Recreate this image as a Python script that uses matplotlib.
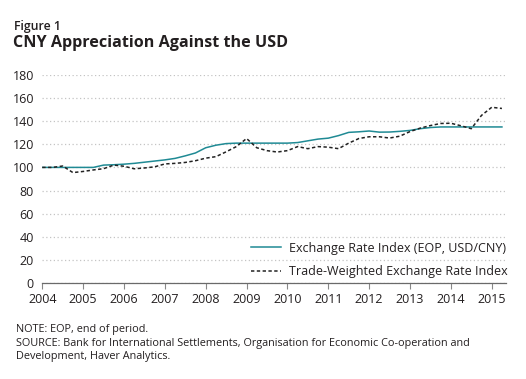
import numpy as np
import matplotlib
matplotlib.use("Agg")
from matplotlib import pyplot as plt

plt.rcParams['font.family'] = ['Open Sans', 'DejaVu Sans']

# quarterly observations, 2004Q1 .. 2015Q2
dates = 2004 + np.arange(46) * 0.25
years = list(range(2004, 2016))

exchange_rate = [100, 100, 100, 100, 100, 100, 102, 102.3, 102.8, 103.5,
                 104.5, 105.5, 106.5, 107.8, 110, 112.5, 117, 119.2, 120.6, 121,
                 121, 121, 121, 121, 121, 121.5, 123, 124.5, 125.3, 127.5,
                 130.3, 130.8, 131.5, 130.5, 130.6, 131.2, 132, 133.5, 134.5, 135,
                 135, 135, 135, 135, 135, 135]
trade_weighted = [100, 100, 101.2, 95.5, 96.5, 97.8, 98.9, 102, 101, 98.8,
                  99.5, 100.5, 103, 103.5, 104.3, 105.8, 108, 109.3, 113.5, 118,
                  125, 117, 114.5, 113.3, 114.5, 118, 116.2, 118, 117.5, 116.2,
                  121, 125, 126.5, 126.5, 125.4, 127, 131, 134, 136.2, 138,
                  138.2, 136, 133.5, 145, 152, 151]

fig = plt.figure(figsize=(5.26, 3.79), dpi=100)
ax = fig.add_axes([0.0804, 0.2533, 0.8816, 0.549])

ax.plot(dates, exchange_rate, color='#1f8a94', lw=1.1,
        label='Exchange Rate Index (EOP, USD/CNY)')
ax.plot(dates, trade_weighted, color='#222222', lw=1.1, ls=(0, (2.2, 1.6)),
        label='Trade-Weighted Exchange Rate Index')

ax.set_xlim(2004, 2015.35)
ax.set_ylim(0, 180)
ax.set_yticks(range(0, 181, 20))
ax.set_xticks(years)
ax.grid(axis='y', color='#c4c4c4', ls=(0, (1, 2)), lw=0.9)
ax.set_axisbelow(True)

for s in ['top', 'right', 'left']:
    ax.spines[s].set_visible(False)
ax.spines['bottom'].set_color('#6a6a6a')
ax.spines['bottom'].set_linewidth(0.9)
ax.tick_params(axis='x', direction='out', length=4, color='#888888',
               labelsize=9, pad=3, labelcolor='#231f20')
ax.tick_params(axis='y', length=0, labelsize=9, pad=6, labelcolor='#231f20')

leg = ax.legend(loc='center right', frameon=False, fontsize=9.0,
                handlelength=2.4, handletextpad=0.6, labelspacing=0.83,
                bbox_to_anchor=(1.003, 0.111), borderaxespad=0, borderpad=0)
for t in leg.get_texts():
    t.set_color('#231f20')

fig.text(0.0266, 0.9208, 'Figure 1', fontsize=8.8, fontweight='semibold',
         color='#231f20', va='baseline')
fig.text(0.025, 0.8752, 'CNY Appreciation Against the USD', fontsize=11.6,
         fontweight='bold', color='#231f20', va='baseline')

notes = ['NOTE: EOP, end of period.',
         'SOURCE: Bank for International Settlements, Organisation for Economic Co-operation and',
         'Development, Haver Analytics.']
for line, yb in zip(notes, [0.1232, 0.0879, 0.0528]):
    fig.text(0.03, yb, line, fontsize=7.8, color='#231f20', va='baseline')

fig.savefig('out.png', dpi=100)
